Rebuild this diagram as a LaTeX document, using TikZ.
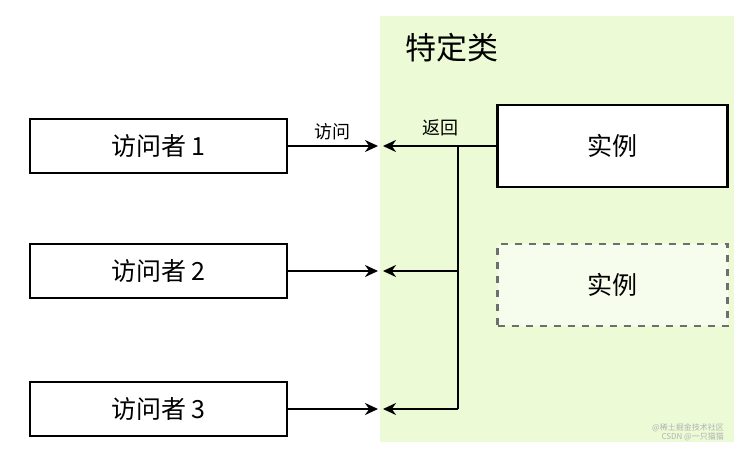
\documentclass[tikz,border=0pt]{standalone}
\usepackage{fontspec}
\setmainfont{Noto Sans CJK SC}
\usetikzlibrary{shapes,arrows.meta,positioning}

\definecolor{panelgreen}{RGB}{236,250,214}
\definecolor{dashgray}{RGB}{110,110,110}

\tikzset{
    visitor/.style={draw, line width=2.6pt, fill=white, outer sep=0pt, minimum width=257pt, minimum height=54pt, inner sep=0pt, font=\fontsize{25}{25}\selectfont},
    instance/.style={draw, line width=2.6pt, fill=white, outer sep=0pt, minimum width=230pt, minimum height=82pt, inner sep=0pt, font=\fontsize{25}{25}\selectfont},
    ghost/.style={instance, draw=dashgray, fill=white!55!panelgreen, dash pattern=on 7pt off 7pt},
    link/.style={line width=2.6pt, -{Stealth[length=13pt,width=12pt]}},
    small/.style={font=\fontsize{18}{18}\selectfont}
}

\begin{document}
\begin{tikzpicture}[x=1pt, y=1pt]

        \useasboundingbox (0,0) rectangle (755,-450);

        % Fond
        \fill [panelgreen] (380,-16) rectangle (734,-442);
        \node [font=\fontsize{31}{31}\selectfont] (title) at (452,-48) {特定类};

        % Nós
        \node [visitor] (v1) at (158.5,-146) {访问者 1};
        \node [visitor, below=71pt of v1] (v2) {访问者 2};
        \node [visitor, below=84pt of v2] (v3) {访问者 3};
        \node [instance] (inst) at (612.5,-146) {实例};
        \node [ghost, below=57pt of inst] (inst2) {实例};

        % Pontos
        \coordinate (a1) at (378,-146);
        \coordinate (a2) at (378,-271);
        \coordinate (a3) at (378,-409);
        \coordinate (r1) at (383,-146);
        \coordinate (r2) at (383,-271);
        \coordinate (r3) at (383,-409);
        \coordinate (j1) at (458,-146);
        \coordinate (j2) at (458,-271);
        \coordinate (j3) at (458,-409);

        % Conexões
        \draw [link] (v1.east) -- node[small, above, yshift=1pt] (visit) {访问} (a1);
        \draw [link] (v2.east) -- (a2);
        \draw [link] (v3.east) -- (a3);
        \draw [link] (inst.west) -- (r1);
        \draw [line width=2.6pt] (j1) -- (j3);
        \draw [link] (j2) -- (r2);
        \draw [link] (j3) -- (r3);
        \node [small] (back) at (440,-128) {返回};

        % Marca
        \node [font=\fontsize{8}{9}\selectfont, text=gray!60, align=right, anchor=south east, inner sep=0pt] (mark) at (724,-441) {@稀土掘金技术社区\\CSDN @一只猫猫};

    \end{tikzpicture}
\end{document}
